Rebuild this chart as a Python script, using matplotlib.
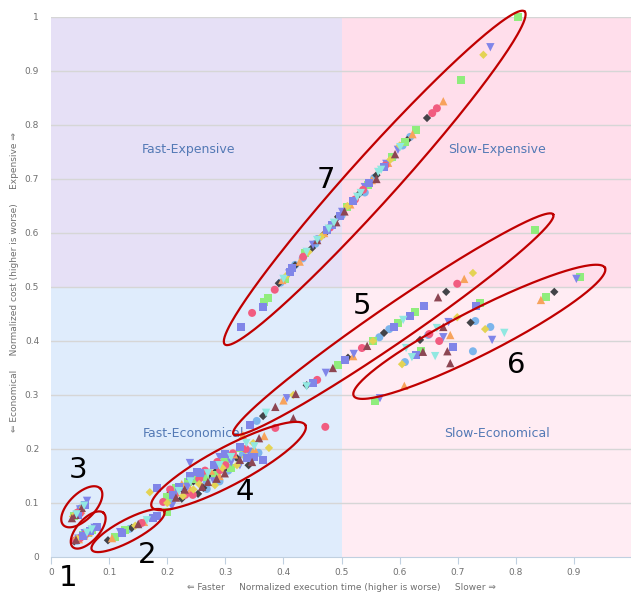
import numpy as np
import matplotlib
matplotlib.use("Agg")
import matplotlib.pyplot as plt
from matplotlib.patches import Rectangle

# (normalized execution time, normalized cost) per series
blue_circle = [(0.045, 0.030), (0.060, 0.042), (0.053, 0.038), (0.043, 0.080),
               (0.051, 0.090), (0.135, 0.052),
               (0.268, 0.126), (0.208, 0.105), (0.343, 0.183), (0.357, 0.193),
               (0.268, 0.139), (0.305, 0.160), (0.230, 0.130), (0.290, 0.140),
               (0.330, 0.190), (0.250, 0.150),
               (0.354, 0.252), (0.565, 0.407), (0.582, 0.422),
               (0.609, 0.361), (0.649, 0.411), (0.726, 0.381), (0.756, 0.426),
               (0.730, 0.437),
               (0.420, 0.541), (0.618, 0.778), (0.500, 0.632), (0.455, 0.580),
               (0.395, 0.508), (0.540, 0.675), (0.588, 0.740), (0.433, 0.553),
               (0.556, 0.702), (0.605, 0.762)]
dark_diamond = [(0.052, 0.036), (0.040, 0.029), (0.048, 0.085), (0.039, 0.075),
                (0.098, 0.031), (0.139, 0.054),
                (0.227, 0.124), (0.253, 0.117), (0.299, 0.174), (0.320, 0.183),
                (0.245, 0.140), (0.270, 0.150), (0.300, 0.165), (0.225, 0.108),
                (0.205, 0.118), (0.285, 0.160), (0.340, 0.170), (0.262, 0.128),
                (0.365, 0.261), (0.511, 0.369), (0.573, 0.415), (0.680, 0.491),
                (0.440, 0.318),
                (0.635, 0.402), (0.722, 0.434), (0.866, 0.491),
                (0.392, 0.507), (0.449, 0.572), (0.494, 0.630), (0.530, 0.672),
                (0.647, 0.813), (0.560, 0.707), (0.420, 0.540), (0.470, 0.598),
                (0.613, 0.772)]
green_square = [(0.055, 0.040), (0.070, 0.050), (0.063, 0.045), (0.040, 0.076),
                (0.110, 0.037), (0.127, 0.050),
                (0.200, 0.111), (0.236, 0.139), (0.282, 0.152), (0.325, 0.202),
                (0.199, 0.083), (0.250, 0.145), (0.300, 0.180), (0.215, 0.128),
                (0.265, 0.148), (0.310, 0.165), (0.345, 0.195),
                (0.494, 0.356), (0.554, 0.400), (0.626, 0.454), (0.597, 0.433),
                (0.833, 0.606),
                (0.558, 0.289), (0.637, 0.381), (0.738, 0.470), (0.852, 0.482),
                (0.910, 0.519),
                (0.367, 0.472), (0.373, 0.480), (0.437, 0.563), (0.509, 0.648),
                (0.609, 0.769), (0.628, 0.791), (0.706, 0.883), (0.804, 1.000),
                (0.587, 0.741), (0.402, 0.515), (0.545, 0.689)]
orange_triangle = [(0.048, 0.033), (0.065, 0.046), (0.057, 0.040), (0.045, 0.083),
                   (0.052, 0.087), (0.105, 0.035), (0.160, 0.065),
                   (0.330, 0.226), (0.367, 0.224), (0.240, 0.125), (0.290, 0.150),
                   (0.215, 0.120), (0.350, 0.200), (0.225, 0.135), (0.275, 0.160),
                   (0.315, 0.190),
                   (0.711, 0.515), (0.400, 0.290), (0.520, 0.372),
                   (0.608, 0.317), (0.687, 0.411), (0.843, 0.476),
                   (0.398, 0.513), (0.552, 0.698), (0.580, 0.730), (0.675, 0.844),
                   (0.470, 0.600), (0.428, 0.547), (0.515, 0.653), (0.622, 0.783)]
purple_down = [(0.058, 0.044), (0.075, 0.054), (0.047, 0.034), (0.062, 0.104),
               (0.050, 0.088), (0.119, 0.046),
               (0.208, 0.094), (0.239, 0.174), (0.260, 0.150), (0.310, 0.175),
               (0.340, 0.195), (0.280, 0.140), (0.235, 0.130), (0.290, 0.185),
               (0.325, 0.170),
               (0.406, 0.294), (0.473, 0.341), (0.521, 0.376),
               (0.566, 0.294), (0.684, 0.435), (0.675, 0.407), (0.759, 0.402),
               (0.904, 0.515),
               (0.501, 0.639), (0.451, 0.578), (0.597, 0.754), (0.756, 0.944),
               (0.540, 0.685), (0.410, 0.525), (0.462, 0.588), (0.577, 0.728)]
pink_circle = [(0.050, 0.035), (0.042, 0.031), (0.060, 0.043), (0.050, 0.081),
               (0.045, 0.082), (0.156, 0.063),
               (0.193, 0.102), (0.213, 0.115), (0.244, 0.115), (0.291, 0.161),
               (0.286, 0.176), (0.313, 0.192), (0.231, 0.115), (0.386, 0.239),
               (0.265, 0.160), (0.205, 0.125), (0.255, 0.145), (0.300, 0.170),
               (0.335, 0.200),
               (0.458, 0.328), (0.535, 0.387), (0.699, 0.506),
               (0.651, 0.413), (0.668, 0.400), (0.472, 0.241),
               (0.346, 0.452), (0.434, 0.556), (0.537, 0.680), (0.656, 0.822),
               (0.664, 0.831), (0.480, 0.610), (0.575, 0.725), (0.385, 0.495),
               (0.523, 0.662)]
yellow_diamond = [(0.045, 0.034), (0.038, 0.075), (0.055, 0.092), (0.041, 0.077),
                  (0.145, 0.058),
                  (0.170, 0.120), (0.227, 0.113), (0.282, 0.133), (0.348, 0.211),
                  (0.375, 0.202), (0.320, 0.170), (0.255, 0.135), (0.200, 0.100),
                  (0.245, 0.125), (0.295, 0.165), (0.335, 0.185),
                  (0.417, 0.300), (0.642, 0.465), (0.726, 0.526), (0.554, 0.400),
                  (0.604, 0.357), (0.699, 0.444), (0.747, 0.422),
                  (0.406, 0.522), (0.465, 0.593), (0.744, 0.930), (0.510, 0.650),
                  (0.600, 0.762), (0.443, 0.565), (0.584, 0.736)]
purple_square = [(0.067, 0.048), (0.079, 0.056), (0.055, 0.038), (0.047, 0.078),
                 (0.058, 0.096), (0.122, 0.044), (0.175, 0.072), (0.182, 0.076),
                 (0.182, 0.127), (0.256, 0.155), (0.251, 0.158), (0.337, 0.183),
                 (0.365, 0.180), (0.325, 0.204), (0.220, 0.130), (0.300, 0.190),
                 (0.240, 0.150), (0.280, 0.170), (0.350, 0.185), (0.210, 0.115),
                 (0.343, 0.244), (0.451, 0.322), (0.506, 0.365), (0.590, 0.426),
                 (0.618, 0.446), (0.642, 0.465),
                 (0.628, 0.374), (0.692, 0.389), (0.731, 0.465),
                 (0.327, 0.426), (0.365, 0.463), (0.415, 0.535), (0.475, 0.606),
                 (0.484, 0.615), (0.573, 0.722), (0.520, 0.660), (0.497, 0.631),
                 (0.548, 0.693), (0.412, 0.527)]
maroon_triangle = [(0.043, 0.032), (0.053, 0.091), (0.036, 0.072), (0.042, 0.078),
                   (0.150, 0.061),
                   (0.270, 0.139), (0.299, 0.155), (0.346, 0.176), (0.358, 0.220),
                   (0.417, 0.257), (0.260, 0.130), (0.230, 0.125), (0.215, 0.110),
                   (0.285, 0.145), (0.325, 0.180),
                   (0.421, 0.302), (0.485, 0.350), (0.544, 0.391), (0.666, 0.481),
                   (0.386, 0.278),
                   (0.640, 0.380), (0.675, 0.426), (0.682, 0.381), (0.687, 0.359),
                   (0.458, 0.587), (0.491, 0.620), (0.560, 0.700), (0.505, 0.640),
                   (0.592, 0.746)]
cyan_down = [(0.062, 0.045), (0.070, 0.051), (0.057, 0.095), (0.044, 0.079),
             (0.165, 0.068),
             (0.336, 0.211), (0.290, 0.170), (0.240, 0.140), (0.310, 0.185),
             (0.220, 0.122), (0.270, 0.155), (0.350, 0.205),
             (0.370, 0.267), (0.440, 0.316), (0.606, 0.439),
             (0.611, 0.387), (0.621, 0.370), (0.661, 0.372), (0.664, 0.424),
             (0.780, 0.415),
             (0.458, 0.587), (0.527, 0.667), (0.563, 0.713), (0.601, 0.759),
             (0.440, 0.565), (0.400, 0.515), (0.478, 0.608), (0.487, 0.619),
             (0.533, 0.674), (0.568, 0.717)]

x_ticks = [0, 0.1, 0.2, 0.3, 0.4, 0.5, 0.6, 0.7, 0.8, 0.9]
x_tick_labels = ["0", "0.1", "0.2", "0.3", "0.4", "0.5", "0.6", "0.7", "0.8", "0.9"]
y_ticks = [0, 0.1, 0.2, 0.3, 0.4, 0.5, 0.6, 0.7, 0.8, 0.9, 1.0]
y_tick_labels = ["0", "0.1", "0.2", "0.3", "0.4", "0.5", "0.6", "0.7", "0.8", "0.9", "1"]

quadrants = ["Fast-Expensive", "Slow-Expensive", "Fast-Economical", "Slow-Economical"]
group_names = ["1", "2", "3", "4", "5", "6", "7"]

series = [
    (blue_circle, "#7cb5ec", "o", 33),
    (dark_diamond, "#434348", "D", 18),
    (green_square, "#90ed7d", "s", 33),
    (orange_triangle, "#f7a35c", "^", 36),
    (purple_down, "#8085e9", "v", 36),
    (pink_circle, "#f15c80", "o", 33),
    (yellow_diamond, "#e4d354", "D", 18),
    (purple_square, "#8085e8", "s", 33),
    (maroon_triangle, "#8d4653", "^", 36),
    (cyan_down, "#91e8e1", "v", 36),
]

fig = plt.figure(figsize=(6.31, 5.93), dpi=100)
ax = fig.add_axes([51 / 631, 36 / 593, 580 / 631, 540 / 593])
ax.set_xlim(0, 0.998)
ax.set_ylim(0, 1)

# quadrant bands
ax.add_patch(Rectangle((0, 0.5), 0.5, 0.5, color="#e6e0f6", lw=0, zorder=0))
ax.add_patch(Rectangle((0.5, 0.5), 0.5, 0.5, color="#ffdeeb", lw=0, zorder=0))
ax.add_patch(Rectangle((0, 0), 0.5, 0.5, color="#dfecfc", lw=0, zorder=0))
ax.add_patch(Rectangle((0.5, 0), 0.5, 0.5, color="#ffecf3", lw=0, zorder=0))

for yv in y_ticks[1:]:
    ax.axhline(yv, color="#d6d6d6", lw=1, zorder=1)

lab_kw = dict(color="#5379b5", fontsize=9, ha="center", va="center", zorder=1)
ax.text(0.236, 0.754, quadrants[0], **lab_kw)
ax.text(0.768, 0.754, quadrants[1], **lab_kw)
ax.text(0.245, 0.228, quadrants[2], **lab_kw)
ax.text(0.768, 0.228, quadrants[3], **lab_kw)

for pts, col, mk, sz in series:
    pts = np.array(pts)
    ax.scatter(pts[:, 0], pts[:, 1], s=sz, c=col, marker=mk,
               edgecolors="none", zorder=3, clip_on=False)


def draw_ring(cx, cy, w, h, ang):
    # ellipse sized in pixels, centred on a data point
    t = np.linspace(0, 2 * np.pi, 240)
    c = ax.transData.transform((cx, cy))
    a = np.radians(ang)
    px = c[0] + w / 2 * np.cos(t) * np.cos(a) - h / 2 * np.sin(t) * np.sin(a)
    py = c[1] + w / 2 * np.cos(t) * np.sin(a) + h / 2 * np.sin(t) * np.cos(a)
    xy = ax.transData.inverted().transform(np.column_stack([px, py]))
    ax.plot(xy[:, 0], xy[:, 1], color="#c00000", lw=1.6, clip_on=False, zorder=5)


rings = [
    (0.064, 0.050, 46, 22, 48),
    (0.1325, 0.049, 82, 22, 28),
    (0.053, 0.093, 52, 26, 45),
    (0.3055, 0.1685, 174, 38, 28),
    (0.589, 0.431, 388, 37, 34.5),
    (0.737, 0.417, 282, 45, 27),
    (0.557, 0.702, 448, 47, 48),
]
for r in rings:
    draw_ring(*r)

num_pos = [(0.029, -0.039), (0.165, 0.004), (0.046, 0.161), (0.334, 0.120),
           (0.535, 0.465), (0.800, 0.356), (0.473, 0.698)]
for name, (nx, ny) in zip(group_names, num_pos):
    ax.text(nx, ny, name, fontsize=21, color="black", ha="center", va="center",
            zorder=6, clip_on=False)

ax.set_xticks(x_ticks)
ax.set_xticklabels(x_tick_labels)
ax.set_yticks(y_ticks)
ax.set_yticklabels(y_tick_labels)
ax.tick_params(axis="x", length=5, color="#c0d0e0", pad=3, labelsize=6.5,
               labelcolor="#707070")
ax.tick_params(axis="y", length=0, pad=8.5, labelsize=6.5, labelcolor="#707070")
for side in ["top", "right", "left"]:
    ax.spines[side].set_visible(False)
ax.spines["bottom"].set_color("#c0d0e0")
ax.spines["bottom"].set_zorder(2)

fig.text(341 / 631, 1 - 587 / 593,
         "\u21d0 Faster     Normalized execution time (higher is worse)     Slower \u21d2",
         fontsize=6.5, color="#707070", ha="center", va="center")
fig.text(15 / 631, 1 - 282 / 593,
         "\u21d0 Economical     Normalized cost (higher is worse)     Expensive \u21d2",
         fontsize=6.5, color="#707070", ha="center", va="center", rotation=90)

fig.savefig("out.png", dpi=100)
